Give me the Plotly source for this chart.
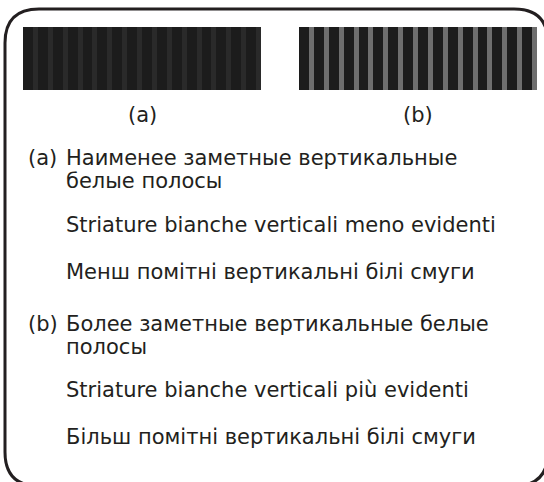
import plotly.graph_objects as go

# grey level (0-255) of each 5 px column in the two stripe samples
stripes_a = [28, 28, 42, 28, 28, 42, 28, 28, 42, 28, 28, 42, 28, 28, 42, 28,
             28, 42, 28, 28, 42, 28, 28, 42, 28, 28, 42, 28, 28, 42, 28, 28,
             42, 28, 28, 42, 28, 28, 42, 28, 28, 42, 28, 28, 42, 28, 28, 42]
stripes_b = [28, 28, 110, 28, 28, 110, 28, 28, 110, 28, 28, 110, 28, 28, 110, 28,
             28, 110, 28, 28, 110, 28, 28, 110, 28, 28, 110, 28, 28, 110, 28, 28,
             110, 28, 28, 110, 28, 28, 110, 28, 28, 110, 28, 28, 110, 28, 28, 110]

labels = ["(a)", "(b)"]
items = [
    ("(a)", ["Наименее заметные вертикальные", "белые полосы"],
     "Striature bianche verticali meno evidenti",
     "Менш помітні вертикальні білі смуги"),
    ("(b)", ["Более заметные вертикальные белые", "полосы"],
     "Striature bianche verticali più evidenti",
     "Більш помітні вертикальні білі смуги"),
]

W, H = 544, 482
ink = "#231f20"
font = "DejaVu Sans, Arial, sans-serif"
fsize = 21

fig = go.Figure()
grey = [[0, "black"], [1, "white"]]
fig.add_trace(go.Heatmap(z=[stripes_a], colorscale=grey, zmin=0, zmax=255,
                         showscale=False, hoverinfo="skip", xaxis="x", yaxis="y"))
fig.add_trace(go.Heatmap(z=[stripes_b], colorscale=grey, zmin=0, zmax=255,
                         showscale=False, hoverinfo="skip", xaxis="x2", yaxis="y2"))

ann = []
# captions under the samples
for lab, cx in zip(labels, [142, 418]):
    ann.append(dict(x=cx, y=115, text=lab, xanchor="center"))

# text block
rows = [(158, 181, 225, 272), (324, 347, 390, 437)]
for (tag, ru, it, uk), (y1, y2, y3, y4) in zip(items, rows):
    ann.append(dict(x=26, y=y1, text=tag, xanchor="left"))
    ann.append(dict(x=64, y=y1, text=ru[0], xanchor="left"))
    ann.append(dict(x=64, y=y2, text=ru[1], xanchor="left"))
    ann.append(dict(x=64, y=y3, text=it, xanchor="left"))
    ann.append(dict(x=64, y=y4, text=uk, xanchor="left"))

for a in ann:
    a.update(xref="x3", yref="y3", showarrow=False, yanchor="middle",
             font=dict(family=font, size=fsize, color=ink))

# rounded frame; its right side lies past the edge of the picture,
# so only the two right-hand corners are drawn
x0, y0, x1, y1, r = 5, 9, 548, 486, 34
frame = (f"M {x1},{y0+r} Q {x1},{y0} {x1-r},{y0} L {x0+r},{y0} "
         f"Q {x0},{y0} {x0},{y0+r} L {x0},{y1-r} Q {x0},{y1} {x0+r},{y1} "
         f"L {x1-r},{y1} Q {x1},{y1} {x1},{y1-r}")

hidden = dict(visible=False, showgrid=False, zeroline=False, fixedrange=True)
fig.update_layout(
    width=W, height=H,
    margin=dict(l=0, r=0, t=0, b=0, pad=0, autoexpand=False),
    paper_bgcolor="white", plot_bgcolor="rgba(0,0,0,0)",
    showlegend=False,
    xaxis=dict(hidden, domain=[23 / W, 261 / W], anchor="y"),
    yaxis=dict(hidden, domain=[1 - 90 / H, 1 - 27 / H], anchor="x"),
    xaxis2=dict(hidden, domain=[299 / W, 537 / W], anchor="y2"),
    yaxis2=dict(hidden, domain=[1 - 90 / H, 1 - 27 / H], anchor="x2"),
    xaxis3=dict(hidden, domain=[0, 1], range=[0, W], anchor="y3"),
    yaxis3=dict(hidden, domain=[0, 1], range=[H, 0], anchor="x3"),
    shapes=[dict(type="path", path=frame, xref="x3", yref="y3",
                 line=dict(color=ink, width=3))],
    annotations=ann,
)

fig.write_html("out.html", config={"displayModeBar": False},
               post_script="document.body.style.margin = '0'; document.body.style.overflow = 'hidden';")
